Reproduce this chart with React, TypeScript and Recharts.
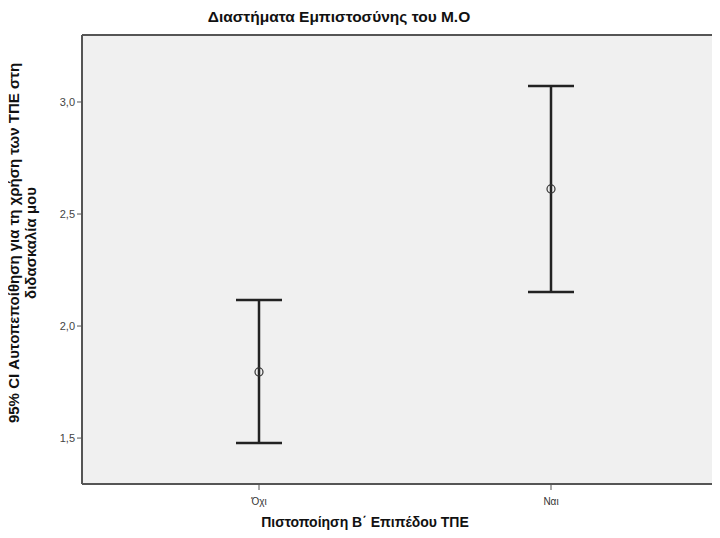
import React from 'react';
import { ComposedChart, Scatter, ErrorBar, XAxis, YAxis, CartesianGrid, ReferenceLine, Label } from 'recharts';

// Values
const categories = ['Όχι', 'Ναι'];
const means = [1.795, 2.612];
const lowerCI = [1.478, 2.152];
const upperCI = [2.116, 3.071];
const yTicks = [1.5, 2.0, 2.5, 3.0];

const Y_MIN = 1.295;
const Y_MAX = 3.299;

const FONT = '"Liberation Sans", Arial, sans-serif';
const INK = '#222';
const FRAME = '#555';

const data = categories.map((cat, i) => ({
  cat,
  mean: means[i],
  err: [means[i] - lowerCI[i], upperCI[i] - means[i]],
}));

const formatTick = (v: number) => v.toFixed(1).replace('.', ',');

// Hollow circle for the mean marker
const MeanDot = (props: any) => {
  const { cx, cy } = props;
  if (cx == null || cy == null) return null;
  return <circle cx={cx} cy={cy} r={4} fill="none" stroke="#333" strokeWidth={1.2} />;
};

const YTitle = () => (
  <text
    transform="translate(0, 243) rotate(-90)"
    textAnchor="middle"
    fontFamily={FONT}
    fontWeight="bold"
    fontSize={15}
    fill="#111"
  >
    <tspan x={0} y={19}>95% CI Αυτοπεποίθηση για τη χρήση των ΤΠΕ στη</tspan>
    <tspan x={0} y={36}>διδασκαλία μου</tspan>
  </text>
);

const XTitle = () => (
  <text x={365} y={527} textAnchor="middle" fontFamily={FONT} fontWeight="bold" fontSize={14} fill="#111">
    Πιστοποίηση Β΄ Επιπέδου ΤΠΕ
  </text>
);

export default function App() {
  return (
    <div style={{ margin: -8, width: 720, height: 538, overflow: 'hidden', background: '#fff', position: 'relative' }}>
      <div
        style={{
          position: 'absolute',
          top: 8,
          left: 0,
          width: 678,
          textAlign: 'center',
          fontFamily: FONT,
          fontWeight: 'bold',
          fontSize: 15.5,
          color: '#111',
          zIndex: 2,
        }}
      >
        Διαστήματα Εμπιστοσύνης του Μ.Ο
      </div>
      <ComposedChart
        width={740}
        height={538}
        data={data}
        margin={{ top: 35, right: 12, bottom: 0, left: 0 }}
      >
        <CartesianGrid horizontal={false} vertical={false} fill="#f0f0f0" />
        <XAxis
          dataKey="cat"
          type="category"
          height={54}
          padding={{ left: 177, right: 177 }}
          axisLine={{ stroke: FRAME, strokeWidth: 2 }}
          tickLine={{ stroke: FRAME, strokeWidth: 1 }}
          tickSize={6}
          tickMargin={8}
          tick={{ fontSize: 10, fill: '#333', fontFamily: FONT }}
          label={<Label content={<XTitle />} />}
        />
        <YAxis
          type="number"
          width={82}
          domain={[Y_MIN, Y_MAX]}
          ticks={yTicks}
          tickFormatter={formatTick}
          axisLine={{ stroke: FRAME, strokeWidth: 2 }}
          tickLine={{ stroke: FRAME, strokeWidth: 1 }}
          tickSize={5}
          tick={{ fontSize: 11, fill: '#444', fontFamily: FONT }}
          allowDataOverflow
          label={<Label content={<YTitle />} />}
        />
        <ReferenceLine y={Y_MAX} stroke={FRAME} strokeWidth={2} />
        <Scatter dataKey="mean" shape={<MeanDot />} isAnimationActive={false}>
          <ErrorBar dataKey="err" direction="y" width={23} stroke={INK} strokeWidth={2.5} />
        </Scatter>
      </ComposedChart>
    </div>
  );
}
